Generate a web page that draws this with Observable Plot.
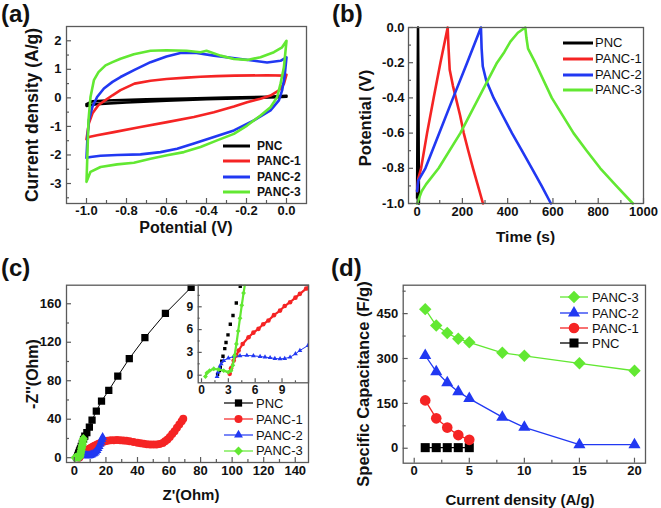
<!DOCTYPE html>
<html><head><meta charset="utf-8">
<script src="https://cdn.jsdelivr.net/npm/d3@7"></script>
<script src="https://cdn.jsdelivr.net/npm/@observablehq/plot@0.6"></script>
<style>
body{margin:0;background:#fff;}
#fig{position:relative;width:661px;height:508px;font-family:"Liberation Sans",Arial,sans-serif;overflow:hidden;background:#fff;}
.plab{position:absolute;font-weight:bold;font-size:24px;line-height:1;color:#111;}
.atitle{position:absolute;font-weight:bold;line-height:1;color:#111;white-space:nowrap;}
</style></head><body><div id="fig"></div>
<script>
// ---------- series / colours ----------
const seriesNames = ["PNC", "PANC-1", "PANC-2", "PANC-3"];
const seriesColors = {"PNC": "#000000", "PANC-1": "#f52424", "PANC-2": "#2138f2", "PANC-3": "#62e832"};

// ---------- (a) cyclic voltammetry: [potential V, current A/g] ----------
const cvPNC = [[-1,-0.22],[-0.97,-0.12],[-0.9,-0.09],[-0.7,-0.05],[-0.5,-0.02],[-0.3,0.01],[-0.1,0.04],[0,0.07],[0,0.04],[-0.05,0.02],[-0.2,-0.01],[-0.4,-0.05],[-0.6,-0.1],[-0.8,-0.16],[-0.95,-0.22],[-1,-0.28],[-1,-0.22]];
const cvPANC1 = [[-1,-1.45],[-0.988,-0.89],[-0.97,-0.54],[-0.94,-0.25],[-0.905,-0.08],[-0.87,0.09],[-0.83,0.27],[-0.76,0.5],[-0.68,0.6],[-0.6,0.66],[-0.5,0.71],[-0.43,0.74],[-0.35,0.76],[-0.26,0.78],[-0.1,0.79],[-0.013,0.78],[0,0.81],[-0.013,0.49],[-0.038,0.26],[-0.08,0.08],[-0.13,-0.03],[-0.197,-0.15],[-0.263,-0.3],[-0.363,-0.5],[-0.463,-0.67],[-0.597,-0.85],[-0.73,-1.02],[-0.863,-1.2],[-0.947,-1.31],[-0.988,-1.37],[-1,-1.45]];
const cvPANC2 = [[-1,-2.1],[-0.995,-1.36],[-0.988,-0.78],[-0.97,-0.31],[-0.947,0.03],[-0.913,0.33],[-0.87,0.56],[-0.83,0.73],[-0.76,0.98],[-0.68,1.25],[-0.6,1.45],[-0.53,1.57],[-0.45,1.57],[-0.363,1.48],[-0.23,1.36],[-0.097,1.24],[-0.03,1.3],[0,1.42],[-0.01,0.72],[-0.022,0.26],[-0.038,-0.09],[-0.08,-0.44],[-0.163,-0.79],[-0.263,-1.14],[-0.363,-1.37],[-0.463,-1.6],[-0.547,-1.78],[-0.63,-1.9],[-0.73,-1.98],[-0.847,-2.0],[-0.93,-2.03],[-0.98,-2.07],[-1,-2.1]];
const cvPANC3 = [[-1,-2.94],[-0.99,-0.78],[-0.98,0.03],[-0.963,0.62],[-0.94,0.9],[-0.905,1.14],[-0.87,1.25],[-0.83,1.37],[-0.763,1.53],[-0.68,1.65],[-0.6,1.67],[-0.5,1.65],[-0.43,1.6],[-0.4,1.65],[-0.33,1.48],[-0.263,1.36],[-0.197,1.33],[-0.13,1.42],[-0.063,1.6],[-0.022,1.77],[0,2.0],[-0.013,1.07],[-0.03,0.49],[-0.047,0.02],[-0.08,-0.33],[-0.13,-0.62],[-0.197,-0.97],[-0.263,-1.26],[-0.347,-1.49],[-0.43,-1.72],[-0.513,-1.9],[-0.597,-2.01],[-0.68,-2.13],[-0.763,-2.27],[-0.847,-2.33],[-0.93,-2.42],[-0.98,-2.59],[-1,-2.94]];
const aXTicks = [-1.0,-0.8,-0.6,-0.4,-0.2,0.0];
const aXMinor = [-0.9,-0.7,-0.5,-0.3,-0.1];
const aYTicks = [-3,-2,-1,0,1,2];
const aYMinor = [-3.5,-2.5,-1.5,-0.5,0.5,1.5];

// ---------- (b) charge / discharge: [time s, potential V] ----------
const gcdPNC = [[0,-0.97],[2,-0.5],[4,0],[5,-0.2],[8,-1]];
const gcdPANC1 = [[0,-0.93],[5,-0.86],[17.6,-0.8],[44,-0.6],[73,-0.4],[103,-0.2],[135,0],[139,-0.12],[144,-0.24],[158,-0.33],[173,-0.41],[190,-0.5],[206,-0.6],[226,-0.7],[247,-0.8],[269,-0.9],[291,-1]];
const gcdPANC2 = [[0,-0.93],[5,-0.87],[36.6,-0.8],[98,-0.6],[159,-0.4],[221,-0.2],[282,0],[285,-0.12],[290,-0.22],[305,-0.3],[338,-0.4],[378,-0.5],[419,-0.6],[463,-0.7],[507,-0.8],[550,-0.9],[591,-1]];
const gcdPANC3 = [[0,-1],[20,-0.93],[40,-0.89],[95,-0.8],[191,-0.6],[272,-0.4],[353,-0.2],[385,-0.14],[412,-0.08],[445,-0.03],[478,0],[483,-0.06],[490,-0.12],[522,-0.2],[595,-0.4],[691,-0.6],[749,-0.7],[809,-0.8],[880,-0.9],[953,-1]];
const bXTicks = [0,200,400,600,800,1000];
const bXMinor = [100,300,500,700,900];
const bYTicks = [-1.0,-0.8,-0.6,-0.4,-0.2,0.0];
const bYMinor = [-0.9,-0.7,-0.5,-0.3,-0.1];

// ---------- (c) Nyquist: [Z' Ohm, -Z'' Ohm] ----------
const eisPNC = [[1.8,0.1],[2.0,0.6],[2.1,1.05],[2.26,1.85],[2.4,2.5],[2.6,3.5],[2.74,4.3],[2.96,5.3],[3.22,6.7],[3.52,7.85],[3.89,9.5],[4.33,11.7],[5.0,15],[5.8,19],[6.6,22.5],[7.9,26],[9.5,31.8],[11.2,39],[13.9,48.4],[17.2,58.8],[21.8,70],[27.5,84.8],[34.8,103],[44.7,124.7],[57.7,150],[74,177]];
const eisPANC1 = [[3.15,0.18],[3.3,0.9],[3.6,1.93],[3.9,2.6],[4.15,3.25],[4.6,4.1],[5.26,5.0],[5.8,5.6],[6.37,6.1],[6.9,6.7],[7.48,7.2],[8.1,7.9],[8.78,8.5],[9.3,9.1],[9.9,9.6],[10.5,10.2],[11.0,10.7],[11.7,11.4],[12.5,12.1],[13.5,13],[14.5,13.8],[15.5,14.6],[16.5,15.3],[18,16.3],[19.5,17],[21,17.6],[23,18],[25,18.2],[27,18.3],[29,18.1],[31,17.9],[33,17.5],[35,17],[37.5,16.3],[40,15.6],[42,15],[44,14.5],[46,14.1],[48,13.8],[50,13.7],[52,13.8],[54,14.3],[56,15.3],[57.5,17],[59,19],[60.5,21.5],[62,24.5],[63.5,27.5],[65,31],[66.5,34.5],[68,38],[69,40.5]];
const eisPANC2 = [[1.74,-0.17],[1.85,0.4],[2.0,1.0],[2.2,1.5],[2.48,1.93],[3.0,2.25],[3.6,2.46],[4.3,2.55],[5.07,2.6],[5.8,2.55],[6.55,2.46],[7.1,2.38],[7.67,2.3],[8.2,2.2],[8.78,2.15],[9.3,2.2],[9.9,2.37],[10.5,2.8],[11,3.25],[11.9,3.9],[12.7,4.8],[13.5,6],[14.3,7.5],[15,9.5],[15.7,11.8],[16.3,14],[16.9,16.5],[17.4,19],[17.9,21.4]];
const eisPANC3 = [[0.44,-0.17],[0.6,0.3],[0.9,0.6],[1.37,0.84],[1.9,0.75],[2.48,0.6],[3.0,0.4],[3.3,0.6],[3.5,1.3],[3.7,2.6],[3.9,4.1],[4.1,5.8],[4.3,7.5],[4.5,9.2],[4.7,10.8],[4.9,12.3],[5.1,14],[5.3,16],[5.5,18],[5.7,20]];
const cXTicks = [0,20,40,60,80,100,120,140];
const cXMinor = [10,30,50,70,90,110,130];
const cYTicks = [0,40,80,120,160];
const cYMinor = [20,60,100,140];
const insetXTicks = [0,3,6,9];
const insetXMinor = [1.5,4.5,7.5,10.5];
const insetYTicks = [0,3,6,9];
const insetYMinor = [1.5,4.5,7.5,10.5];

// ---------- (d) specific capacitance ----------
const dCurrent = [1,2,3,4,5,8,10,15,20];
const dPANC3 = [465,410,385,366,354,319,309,284,259];
const dPANC2 = [310,256,219,189,166,104,70,12,12];
const dCurrentLow = [1,2,3,4,5];
const dPANC1 = [160,100,69,44,28];
const dPNC = [2,2,2,2,2];
const dXTicks = [0,5,10,15,20];
const dXMinor = [2.5,7.5,12.5,17.5];
const dYTicks = [0,150,300,450];
const dYMinor = [75,225,375,525];

const symbols = {"PNC": "square", "PANC-1": "circle", "PANC-2": "triangle", "PANC-3": "diamond2"};
const d3symbols = {"square": d3.symbolSquare, "circle": d3.symbolCircle, "triangle": d3.symbolTriangle, "diamond2": d3.symbolDiamond2};

const fig = document.getElementById("fig");
const axisColor = "#5a5a5a";

function panel(o) {
  const [fl, fr, ft, fb] = o.frame;
  const ml = fl - o.left, mr = o.left + o.width - fr, mt = ft - o.top, mb = o.top + o.height - fb;
  const fw = fr - fl, fh = fb - ft;
  const tl = o.tickLen ?? 5, tm = o.minorLen ?? 3;
  const marks = [
    ...o.marks,
    Plot.frame({stroke: axisColor, strokeWidth: 1.3}),
    Plot.tickX(o.xTicks, {x: d => d, insetTop: fh - tl, stroke: axisColor, strokeWidth: 1.2}),
    Plot.tickX(o.xMinor, {x: d => d, insetTop: fh - tm, stroke: axisColor, strokeWidth: 1.2}),
    Plot.tickY(o.yTicks, {y: d => d, insetRight: fw - tl, stroke: axisColor, strokeWidth: 1.2}),
    Plot.tickY(o.yMinor, {y: d => d, insetRight: fw - tm, stroke: axisColor, strokeWidth: 1.2}),
    Plot.axisX({ticks: o.xTicks, tickFormat: o.xFmt, tickSize: 0, tickPadding: o.xPad ?? 3, label: null, fontSize: o.tickFont, fontWeight: "bold"}),
    Plot.axisY({ticks: o.yTicks, tickFormat: o.yFmt, tickSize: 0, tickPadding: o.yPad ?? 5, label: null, fontSize: o.tickFont, fontWeight: "bold"})
  ];
  const svg = Plot.plot({
    width: o.width, height: o.height,
    marginLeft: ml, marginRight: mr, marginTop: mt, marginBottom: mb,
    x: {domain: o.xDomain},
    y: {domain: o.yDomain},
    style: {fontFamily: '"Liberation Sans", Arial, sans-serif', fontSize: o.tickFont + "px", fontWeight: "bold", color: "#111", background: "transparent", overflow: "visible"},
    marks
  });
  svg.style.position = "absolute";
  svg.style.left = o.left + "px";
  svg.style.top = o.top + "px";
  fig.appendChild(svg);
}

function axisTitle(text, cx, cy, size, vertical) {
  const d = document.createElement("div");
  d.className = "atitle";
  d.style.left = cx + "px";
  d.style.top = cy + "px";
  d.style.fontSize = size + "px";
  d.style.transform = "translate(-50%,-50%)" + (vertical ? " rotate(-90deg)" : "");
  d.textContent = text;
  fig.appendChild(d);
}

function legend(items, o) {
  items.forEach((it, i) => {
    const cy = o.ys[i];
    const div = document.createElement("div");
    div.style.cssText = `position:absolute;left:${o.x}px;top:${cy - 10}px;height:20px;display:flex;align-items:center;white-space:nowrap;font-size:${o.fontSize}px;font-weight:${o.bold ? "bold" : "normal"};color:#111;line-height:1;`;
    const w = o.lineW;
    let sym = "";
    if (o.marker) {
      const p = d3.symbol(d3symbols[symbols[it]], Math.PI * o.r[it] * o.r[it])();
      sym = `<path d="${p}" transform="translate(${w / 2},10)" fill="${seriesColors[it]}"/>`;
    }
    div.innerHTML = `<svg width="${w}" height="20" style="display:block;flex:none;overflow:visible"><line x1="0" x2="${w}" y1="10" y2="10" stroke="${seriesColors[it]}" stroke-width="${o.sw}"/>${sym}</svg><span style="margin-left:${o.gap}px">${it}</span>`;
    fig.appendChild(div);
  });
}

function label(text, x, y) {
  const d = document.createElement("div");
  d.className = "plab";
  d.style.left = x + "px";
  d.style.top = y + "px";
  d.textContent = text;
  fig.appendChild(d);
}

// ----- (a) -----
const cvData = {"PNC": cvPNC, "PANC-1": cvPANC1, "PANC-2": cvPANC2, "PANC-3": cvPANC3};
panel({
  left: 0, top: 0, width: 330, height: 254, frame: [66, 306, 26, 203],
  xDomain: [-1.1, 0.1], yDomain: [-3.7, 2.5],
  xTicks: aXTicks, xMinor: aXMinor, yTicks: aYTicks, yMinor: aYMinor,
  xFmt: d => d.toFixed(1), yFmt: d => String(d), tickFont: 13, xPad: 2,
  marks: seriesNames.map(s => Plot.line(cvData[s], {x: d => d[0], y: d => d[1], stroke: seriesColors[s], strokeWidth: 2.6, clip: true}))
});
axisTitle("Potential (V)", 186, 228, 16, false);
axisTitle("Current density (A/g)", 33, 115, 17.5, true);
legend(seriesNames, {x: 223, ys: [145.7, 161.2, 176.7, 192.2], lineW: 27, gap: 7, sw: 3, fontSize: 12, bold: true});

// ----- (b) -----
const gcdData = {"PNC": gcdPNC, "PANC-1": gcdPANC1, "PANC-2": gcdPANC2, "PANC-3": gcdPANC3};
panel({
  left: 330, top: 0, width: 331, height: 254, frame: [408, 643, 27, 203],
  xDomain: [-38, 1000], yDomain: [-1, 0],
  xTicks: bXTicks, xMinor: bXMinor, yTicks: bYTicks, yMinor: bYMinor,
  xFmt: d => String(d), yFmt: d => d.toFixed(1), tickFont: 13, yPad: 4,
  marks: seriesNames.map(s => Plot.line(gcdData[s], {x: d => d[0], y: d => d[1], stroke: seriesColors[s], strokeWidth: 2.6}))
});
axisTitle("Time (s)", 525.5, 237, 15.5, false);
axisTitle("Potential (V)", 365, 118, 16.5, true);
legend(seriesNames, {x: 563, ys: [42.7, 58.5, 74.5, 89.5], lineW: 30, gap: 2, sw: 3, fontSize: 13, bold: false});

// ----- (c) -----
const eisData = {"PNC": eisPNC, "PANC-1": eisPANC1, "PANC-2": eisPANC2, "PANC-3": eisPANC3};
const cR = {"PNC": 4.1, "PANC-1": 4, "PANC-2": 3.3, "PANC-3": 4};
const insetR = {"PNC": 1.9, "PANC-1": 2.3, "PANC-2": 1.8, "PANC-3": 2.2};
panel({
  left: 0, top: 254, width: 330, height: 254, frame: [66, 308, 284.7, 462],
  xDomain: [-5, 148.4], yDomain: [-5, 179.3],
  xTicks: cXTicks, xMinor: cXMinor, yTicks: cYTicks, yMinor: cYMinor,
  xFmt: d => String(d), yFmt: d => String(d), tickFont: 13,
  marks: seriesNames.flatMap(s => [
    Plot.line(eisData[s], {x: d => d[0], y: d => d[1], stroke: seriesColors[s], strokeWidth: 1, clip: true}),
    Plot.dot(eisData[s], {x: d => d[0], y: d => d[1], symbol: symbols[s], r: cR[s], fill: seriesColors[s], clip: true})
  ])
});
// inset
panel({
  left: 170, top: 280, width: 140, height: 125, frame: [197.7, 308, 284.7, 382.3],
  xDomain: [-0.37, 11.96], yDomain: [-1, 11.84],
  xTicks: insetXTicks, xMinor: insetXMinor, yTicks: insetYTicks, yMinor: insetYMinor,
  xFmt: d => String(d), yFmt: d => String(d), tickFont: 12, tickLen: 4, minorLen: 2, xPad: 3, yPad: 5,
  marks: seriesNames.flatMap(s => [
    ...(s === "PNC" ? [] : [Plot.line(eisData[s], {x: d => d[0], y: d => d[1], stroke: seriesColors[s], strokeWidth: s === "PANC-2" ? 1 : 2.2, clip: true})]),
    Plot.dot(eisData[s], {x: d => d[0], y: d => d[1], symbol: symbols[s], r: insetR[s], fill: seriesColors[s], clip: true})
  ])
});
axisTitle("Z'(Ohm)", 191, 494, 15, false);
axisTitle("-Z''(Ohm)", 33, 374, 16, true);
legend(seriesNames, {x: 224, ys: [403, 419, 435, 450.7], lineW: 29, gap: 3, sw: 1.2, fontSize: 13, bold: false, marker: true, r: cR});

// ----- (d) -----
const capData = {
  "PANC-3": dCurrent.map((x, i) => [x, dPANC3[i]]),
  "PANC-2": dCurrent.map((x, i) => [x, dPANC2[i]]),
  "PANC-1": dCurrentLow.map((x, i) => [x, dPANC1[i]]),
  "PNC": dCurrentLow.map((x, i) => [x, dPNC[i]])
};
const dR = {"PNC": 5.1, "PANC-1": 5.3, "PANC-2": 4.5, "PANC-3": 5.6};
const dOrder = ["PANC-3", "PANC-2", "PANC-1", "PNC"];
panel({
  left: 330, top: 254, width: 331, height: 254, frame: [402.7, 645, 284.7, 462.7],
  xDomain: [-1, 21], yDomain: [-50, 545],
  xTicks: dXTicks, xMinor: dXMinor, yTicks: dYTicks, yMinor: dYMinor,
  xFmt: d => String(d), yFmt: d => String(d), tickFont: 13,
  marks: seriesNames.flatMap(s => [
    Plot.line(capData[s], {x: d => d[0], y: d => d[1], stroke: seriesColors[s], strokeWidth: 1.3}),
    Plot.dot(capData[s], {x: d => d[0], y: d => d[1], symbol: symbols[s], r: dR[s], fill: seriesColors[s]})
  ])
});
axisTitle("Current density (A/g)", 520, 499, 15, false);
axisTitle("Specific Capacitance (F/g)", 363, 384, 16.5, true);
legend(dOrder, {x: 560, ys: [297.3, 313.3, 328.3, 343.3], lineW: 28, gap: 4, sw: 1.3, fontSize: 13, bold: false, marker: true, r: dR});

// panel letters
label("(a)", 1, 2);
label("(b)", 332, 2);
label("(c)", 1, 256);
label("(d)", 331, 256);
</script></body></html>
